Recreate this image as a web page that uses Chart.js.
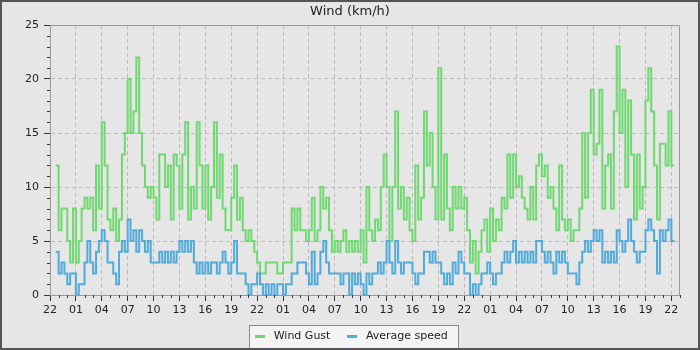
<!DOCTYPE html>
<html>
<head>
<meta charset="utf-8">
<script src="https://cdn.jsdelivr.net/npm/chart.js@4"></script>
<style>
  html, body { margin: 0; padding: 0; background: #e6e6e6; }
  #wrap { width: 696px; height: 346px; border: 2px solid #555; background: #e6e6e6; }
  canvas { display: block; }
</style>
</head>
<body>
<div id="wrap"><canvas id="windChart" width="696" height="346"></canvas></div>
<script>
// hour labels every 3 h, first one is 22:00 on day 1
const tickLabels = ['22','01','04','07','10','13','16','19',
                    '22','01','04','07','10','13','16','19',
                    '22','01','04','07','10','13','16','19','22'];
const axisHours = 73;        // 22:00 -> 23:00 two days later
const firstSampleMin = 40;   // first reading 40 min after the first tick
const sampleStepMin = 20;

const windGust = [
  12,6,8,8,5,3,8,3,5,8, 9,8,9,6,12,8,16,12,7,6, 8,5,7,13,15,20,15,17,22,15,
  12,10,9,10,9,7,13,13,10,12, 7,13,
  12,8,13,16,7,10,8,16,12,8, 12,7,10,16,9,13,8,6,6,9, 12,7,9,6,5,6,5,4,3,2,
  2,3,3,3,3,2,2,3,3,3, 8,6,8,6,
  6,5,6,9,5,6,10,8,9,6, 4,5,4,5,6,4,5,4,5,4, 6,3,10,6,5,7,6,10,13,10,
  5,10,17,8,10,7,9,6,5,12, 7,9,17,
  12,15,10,7,21,7,13,8,6,10, 8,10,8,9,6,3,5,2,4,6, 7,4,8,5,7,6,9,8,13,9,
  13,10,11,9,8,7,10,7,12,13, 11,12,9,10,
  8,6,12,7,6,7,5,6,6,8, 15,9,15,19,13,14,19,8,12,13, 8,17,23,15,19,10,18,13,7,13,
  8,10,18,21,17,12,7,14,14,12, 17,12,12
];

const avgSpeed = [
  4,2,3,2,1,2,2,0,1,1, 3,5,3,2,4,5,6,5,3,3, 2,1,4,5,4,7,5,6,4,6,
  5,4,5,3,3,3,4,3,4,3, 4,3,
  4,5,4,5,4,5,3,2,3,2, 3,2,3,3,2,3,4,3,2,3, 5,2,2,2,1,0,1,1,2,1,
  0,1,0,1,0,1,1,0,1,1, 2,2,3,3,
  3,2,1,4,1,2,4,5,3,2, 2,2,2,1,2,2,0,2,1,2, 1,0,2,1,2,2,3,2,3,5,
  3,2,5,3,2,3,3,3,2,1, 2,2,4,
  4,3,4,3,3,2,1,2,1,3, 2,4,3,2,2,0,1,0,1,2, 2,3,2,1,2,2,3,4,3,4,
  5,3,4,3,4,3,4,3,5,5, 4,3,4,3,
  2,4,3,4,3,2,2,2,1,3, 4,5,4,5,6,5,6,3,4,3, 4,3,6,5,4,5,7,5,4,3,
  4,4,6,7,6,5,2,6,5,6, 7,5,5
];

const seriesNames = ['Wind Gust', 'Average speed'];
const seriesColors = ['#70d870', '#50aada'];

function toPoints(values) {
  return values.map((v, i) => ({ x: (firstSampleMin + i * sampleStepMin) / 60, y: v }));
}

// short flat line used as the legend symbol
function legendLine(color) {
  const c = document.createElement('canvas');
  c.width = 10;
  c.height = 3;
  const g = c.getContext('2d');
  g.fillStyle = color;
  g.fillRect(0, 0, 10, 3);
  return c;
}

// grey frame round the plot, small hourly / unit ticks, box behind the legend
const chartExtras = {
  id: 'chartExtras',
  beforeDraw(chart) {
    const lg = chart.legend;
    if (!lg || !lg.legendHitBoxes.length) return;
    const boxes = lg.legendHitBoxes;
    const last = boxes[boxes.length - 1];
    const left = Math.round(boxes[0].left) - 2.5;
    const right = Math.round(last.left + last.width) + 10.5;
    const top = Math.round(lg.top) + 8.5;
    const ctx = chart.ctx;
    ctx.save();
    ctx.fillStyle = '#f4f4f4';
    ctx.strokeStyle = '#888';
    ctx.lineWidth = 1;
    ctx.fillRect(left, top, right - left, chart.height - top + 2);
    ctx.strokeRect(left, top, right - left, chart.height - top + 2);
    ctx.restore();
  },
  afterDraw(chart) {
    const { ctx, chartArea: a, scales: { x, y } } = chart;
    ctx.save();
    ctx.lineWidth = 1;
    ctx.strokeStyle = '#999';
    ctx.beginPath();
    ctx.moveTo(Math.round(a.left) + 0.5, Math.round(a.top) + 0.5);
    ctx.lineTo(Math.round(a.right) - 0.5, Math.round(a.top) + 0.5);
    ctx.lineTo(Math.round(a.right) - 0.5, Math.round(a.bottom) + 0.5);
    ctx.stroke();
    ctx.strokeStyle = '#333';
    ctx.beginPath();
    for (let h = 0; h <= axisHours; h++) {
      if (h % 3 === 0) continue;
      const px = Math.round(x.getPixelForValue(h)) + 0.5;
      ctx.moveTo(px, a.bottom);
      ctx.lineTo(px, a.bottom + 3);
    }
    for (let v = y.min; v <= y.max; v++) {
      if (v % 5 === 0) continue;
      const py = Math.round(y.getPixelForValue(v)) + 0.5;
      ctx.moveTo(a.left - 3, py);
      ctx.lineTo(a.left, py);
    }
    ctx.stroke();
    ctx.restore();
  }
};

const font = { family: '"DejaVu Sans", sans-serif', size: 11 };

new Chart(document.getElementById('windChart'), {
  type: 'line',
  data: {
    datasets: [
      {
        label: seriesNames[0],
        data: toPoints(windGust),
        borderColor: seriesColors[0],
        backgroundColor: seriesColors[0],
        borderWidth: 2,
        stepped: true,
        pointRadius: 0,
        fill: false,
        order: 2
      },
      {
        label: seriesNames[1],
        data: toPoints(avgSpeed),
        borderColor: seriesColors[1],
        backgroundColor: seriesColors[1],
        borderWidth: 2,
        stepped: true,
        pointRadius: 0,
        fill: false,
        order: 1
      }
    ]
  },
  options: {
    responsive: false,
    animation: false,
    devicePixelRatio: 1,
    layout: { padding: 0 },
    plugins: {
      title: {
        display: true,
        text: 'Wind (km/h)',
        color: '#222',
        font: { family: font.family, size: 13, weight: 'normal' },
        padding: { top: 2, bottom: 5.4 }
      },
      legend: {
        position: 'bottom',
        maxHeight: 31,
        labels: {
          color: '#222',
          font: font,
          usePointStyle: true,
          pointStyleWidth: 16,
          padding: 14,
          sort: (a, b) => a.datasetIndex - b.datasetIndex,
          generateLabels: chart => Chart.defaults.plugins.legend.labels.generateLabels(chart)
            .map(l => ({ ...l, lineWidth: 0, pointStyle: legendLine(l.strokeStyle) }))
        }
      },
      tooltip: { enabled: false }
    },
    scales: {
      x: {
        type: 'linear',
        min: 0,
        max: axisHours,
        afterFit: s => { s.height = 22; },
        border: { color: '#999', dash: [4, 3] },
        grid: { color: '#bbb', tickColor: '#333', tickLength: 6 },
        ticks: {
          stepSize: 3,
          includeBounds: false,
          maxRotation: 0,
          autoSkip: false,
          padding: 3,
          color: '#222',
          font: font,
          callback: v => tickLabels[Math.round(v / 3)]
        }
      },
      y: {
        min: 0,
        max: 25,
        afterFit: s => { s.width = 48; },
        border: { color: '#999', dash: [4, 3] },
        grid: { color: '#bbb', tickColor: '#333', tickLength: 6 },
        ticks: {
          stepSize: 5,
          padding: 5,
          color: '#222',
          font: font
        }
      },
      // empty right-hand margin so the plot stops short of the edge
      yRight: {
        position: 'right',
        min: 0,
        max: 25,
        afterFit: s => { s.width = 18; },
        border: { display: false },
        grid: { display: false },
        ticks: { display: false }
      }
    }
  },
  plugins: [chartExtras]
});
</script>
</body>
</html>
